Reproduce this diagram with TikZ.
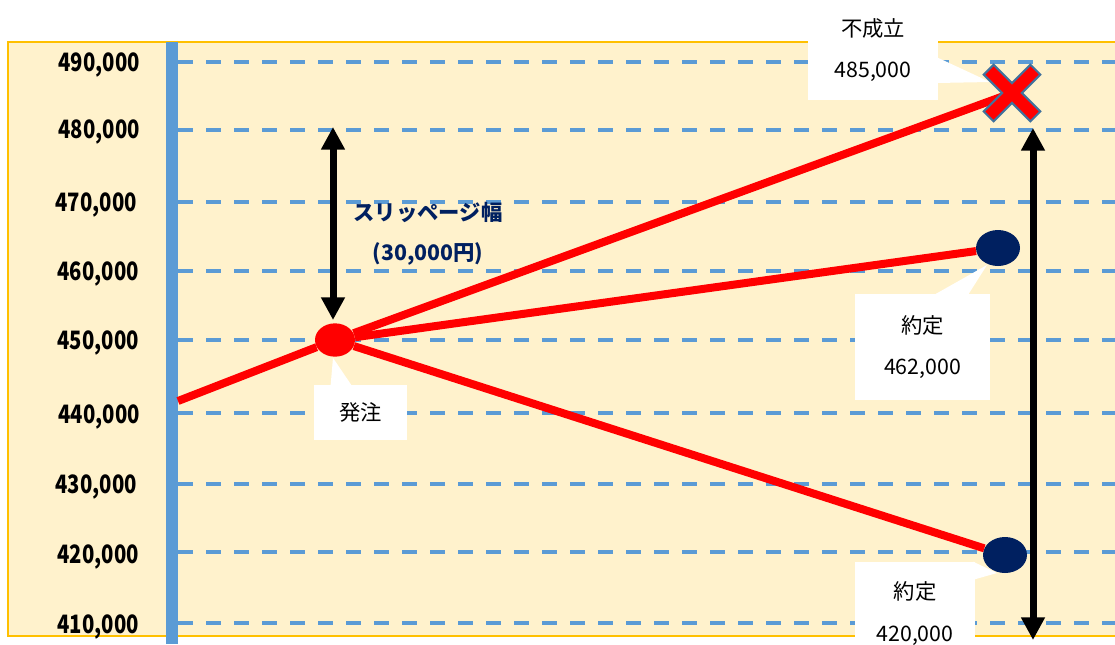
\documentclass[tikz,border=0pt]{standalone}
\usepackage{fontspec}
\setmainfont{Noto Sans CJK JP}
\newfontfamily\narrownum[FakeStretch=0.8]{Noto Sans CJK JP}
\usetikzlibrary{arrows.meta}
\usetikzlibrary{shapes.geometric}
\usetikzlibrary{calc}
\definecolor{bgyellow}{HTML}{FFF2CC}
\definecolor{bgedge}{HTML}{FFC000}
\definecolor{axisblue}{HTML}{5B9BD5}
\definecolor{dotnavy}{HTML}{002060}
\definecolor{xedge}{HTML}{41719C}

\begin{document}
\begin{tikzpicture}[x=0.75pt,y=0.75pt,yscale=-1,xscale=1,
  gridline/.style={draw=axisblue,line width=3pt,dash pattern=on 11.25pt off 9.75pt},
  pricelabel/.style={anchor=east,inner sep=0.75pt,font=\narrownum\fontsize{19}{21}\selectfont\bfseries},
  pathline/.style={draw=red,line width=6pt},
  spanarrow/.style={draw=black,line width=5.25pt,{Triangle[width=17pt,length=17pt]}-{Triangle[width=17pt,length=17pt]}},
  fillpt/.style={ellipse,inner sep=0pt,minimum width=33pt,minimum height=27pt,fill=dotnavy},
  callout/.style={fill=white,inner sep=0pt,align=center,font=\fontsize{16}{31}\selectfont},
  pointer/.style={fill=white},
  slipnote/.style={inner sep=0.75pt,text=dotnavy,font=\fontsize{16}{18}\selectfont\bfseries}]
        \useasboundingbox (0,0) rectangle (1115,644);

        %Shape: Rectangle [background]
        \fill[bgyellow] (8,42) rectangle (1125,636);
        \draw[bgedge,line width=0.9pt] (1125,42) -- (8,42) -- (8,636) -- (1125,636);

        %Straight Lines [dashed grid]
        \draw[gridline] (178,62) -- (1115,62);
        \draw[gridline] (178,130) -- (1115,130);
        \draw[gridline] (178,202) -- (1115,202);
        \draw[gridline] (178,271) -- (1115,271);
        \draw[gridline] (178,340) -- (1115,340);
        \draw[gridline] (178,413) -- (1115,413);
        \draw[gridline] (178,484) -- (1115,484);
        \draw[gridline] (178,552) -- (1115,552);
        \draw[gridline] (178,623) -- (1115,623);

        %Shape: Rectangle [axis bar]
        \fill[axisblue] (166,42) rectangle (178,644);

        % Text Node
        \node[pricelabel] (p490) at (141,65) {490,000};
        % Text Node
        \node[pricelabel] (p480) at (141,132) {480,000};
        % Text Node
        \node[pricelabel] (p470) at (138,205) {470,000};
        % Text Node
        \node[pricelabel] (p460) at (140,274) {460,000};
        % Text Node
        \node[pricelabel] (p450) at (140,343) {450,000};
        % Text Node
        \node[pricelabel] (p440) at (141,417) {440,000};
        % Text Node
        \node[pricelabel] (p430) at (138,487) {430,000};
        % Text Node
        \node[pricelabel] (p420) at (140,557) {420,000};
        % Text Node
        \node[pricelabel] (p410) at (140,627) {410,000};

        %Shape: Ellipse [order and fills]
        \coordinate (start) at (178,401);
        \node[ellipse,inner sep=0pt,minimum width=30pt,minimum height=25pt,fill=red] (hatchu) at (335,340) {};
        \node[inner sep=0pt] (batsu) at (1012,93) {};
        \node[fillpt] (yaku1) at (998,248) {};
        \node[fillpt] (yaku2) at (1005,555) {};

        %Straight Lines [price path]
        \draw[pathline] (start) -- (hatchu);
        \draw[pathline] (hatchu) -- (batsu.center);
        \draw[pathline] (hatchu) -- (yaku1);
        \draw[pathline] (hatchu) -- (yaku2);

        %Straight Lines [spans]
        \coordinate (slipTop) at (333,127);
        \coordinate (slipBot) at (333,320);
        \draw[spanarrow] (slipTop) -- (slipBot);
        \coordinate (rangeTop) at (1033,128);
        \coordinate (rangeBot) at (1033,640);
        \draw[spanarrow] (rangeTop) -- (rangeBot);

        % Text Node
        \node[slipnote] (slipw) at (428,212) {スリッページ幅};
        % Text Node
        \node[slipnote] (slipv) at (428,254) {(30,000円)};

        %Shape: Callouts
        \node[callout,minimum width=97.5pt,minimum height=75pt] (lbfusei) at (873,50) {不成立\\485,000};
        \fill[pointer] ($(lbfusei.east)+(-2,7)$) -- ($(batsu)+(-22,-11)$) -- ($(lbfusei.east)+(-2,33)$) -- cycle;
        \node[callout,minimum width=101.25pt,minimum height=79.5pt] (lbyaku1) at (922.5,347) {約定\\462,000};
        \fill[pointer] ($(lbyaku1.north)+(10,2)$) -- ($(yaku1)+(-11,17)$) -- ($(lbyaku1.north)+(45,2)$) -- cycle;
        \node[callout,minimum width=90pt,minimum height=77.25pt] (lbyaku2) at (915,613.5) {約定\\420,000};
        \fill[pointer] ($(lbyaku2.north east)+(-2,0)$) -- ($(yaku2)+(-8,18)$) -- ($(lbyaku2.north east)+(-2,18)$) -- cycle;
        \node[callout,minimum width=69.75pt,minimum height=41.25pt] (lbhatchu) at (360.5,412.5) {発注};
        \fill[pointer] ($(lbhatchu.north)+(-30,2)$) -- ($(hatchu.south)+(-2,1)$) -- ($(lbhatchu.north)+(-8,2)$) -- cycle;

        %Shape: Cross [not filled]
        \draw[fill=red,draw=xedge,line width=1.5pt,shift={(batsu)},rotate=45] (7,33) -- (7,7) -- (33,7) -- (33,-7) -- (7,-7) -- (7,-33) -- (-7,-33) -- (-7,-7) -- (-33,-7) -- (-33,7) -- (-7,7) -- (-7,33) -- cycle;
\end{tikzpicture}
\end{document}
